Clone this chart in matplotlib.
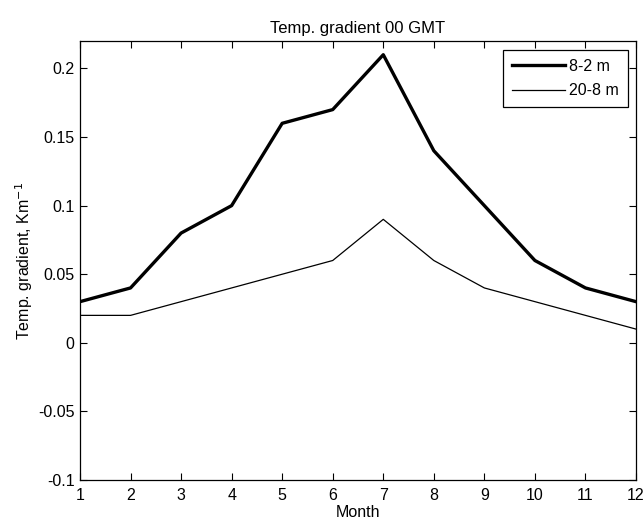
import matplotlib
matplotlib.use("Agg")
import matplotlib.pyplot as plt

months = list(range(1, 13))
grad_8_2 = [0.03, 0.04, 0.08, 0.10, 0.16, 0.17, 0.21, 0.14, 0.10, 0.06, 0.04, 0.03]
grad_20_8 = [0.02, 0.02, 0.03, 0.04, 0.05, 0.06, 0.09, 0.06, 0.04, 0.03, 0.02, 0.01]
yticks = [-0.1, -0.05, 0, 0.05, 0.1, 0.15, 0.2]
ytick_labels = ["-0.1", "-0.05", "0", "0.05", "0.1", "0.15", "0.2"]

plt.rcParams['font.family'] = ['Liberation Sans', 'DejaVu Sans']
plt.rcParams['font.size'] = 11.5

W, H = 643, 525
L, R, T, B = 80, 636, 41, 480
fig = plt.figure(figsize=(W / 100, H / 100), dpi=100)
ax = fig.add_axes([L / W, (H - B) / H, (R - L) / W, (B - T) / H])
ax.plot(months, grad_8_2, color='black', linewidth=2.4, label='8-2 m')
ax.plot(months, grad_20_8, color='black', linewidth=0.9, label='20-8 m')
ax.set_xlim(1, 12)
ax.set_ylim(-0.1, 0.22)
ax.set_xticks(months)
ax.set_yticks(yticks)
ax.set_yticklabels(ytick_labels)
ax.tick_params(direction='in', length=5, top=True, right=True, width=0.8)
ax.tick_params(axis='x', pad=6)
ax.tick_params(axis='y', pad=4)
for s in ax.spines.values():
    s.set_linewidth(0.9)
ax.set_xlabel('Month', labelpad=1)
ax.set_ylabel(r'Temp. gradient, Km$^{-1}$', labelpad=2)
ax.set_title('Temp. gradient 00 GMT', fontsize=12, pad=6)
leg = ax.legend(loc='upper right', bbox_to_anchor=((628 - L) / (R - L), (B - 50) / (B - T)),
                borderaxespad=0, fancybox=False, edgecolor='black', framealpha=1,
                handlelength=3.3, handletextpad=0.3, labelspacing=0.6, borderpad=0.55)
leg.get_frame().set_linewidth(0.9)
fig.savefig('out.png', dpi=100)
